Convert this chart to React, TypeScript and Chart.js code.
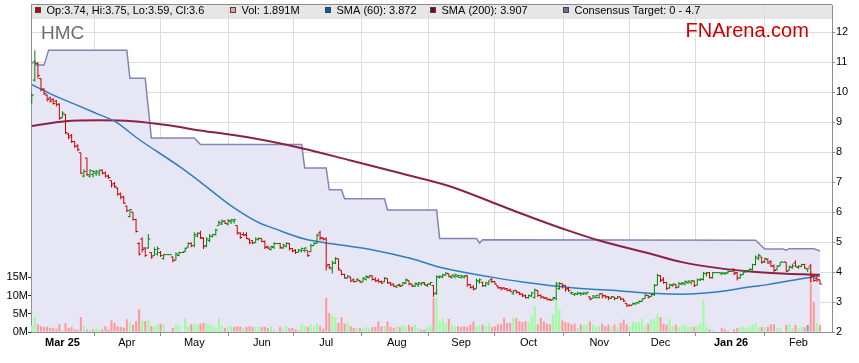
import React, { useEffect, useRef } from 'react';
import { Chart, registerables } from 'chart.js';

Chart.register(...registerables);

// ---- Data (index = weekday number, 0 = 17 Feb 2025) ----
const monthTickIdx = [10, 31, 53, 75, 96, 119, 140, 162, 185, 205, 228, 250];
const monthTickLabels = ['Mar 25', 'Apr', 'May', 'Jun', 'Jul', 'Aug', 'Sep', 'Oct', 'Nov', 'Dec', 'Jan 26', 'Feb'];
const yearLabels = ['Mar 25', 'Jan 26'];
const priceTicks = [2, 3, 4, 5, 6, 7, 8, 9, 10, 11, 12];
const volTicks = [0, 5, 10, 15];

const opens = [
  9.68, 10.4, 10.95, 10.45, 10.1, 9.9, 9.8, 9.75, 9.7, 9.6,
  9.15, 9.25, 8.6, 8.55, 8.35, 8.2, 7.98, 7.2, 7.8, 7.2,
  7.25, 7.3, 7.3, 7.4, 7.3, 7.2, 7.05, 6.95, 6.8, 6.6,
  6.5, 6.2, 5.85, 6.0, 5.75, 4.95, 5.1, 4.8, 4.8, 4.65,
  4.55, 4.6, 4.65, 4.45, 4.58, 4.58, 4.5, 4.4, 4.55, 4.65,
  4.68, 4.83, 4.95, 4.88, 5.2, 5.3, 5.12, 4.88, 5.05, 5.18,
  5.25, 5.55, 5.6, 5.7, 5.6, 5.68, 5.7, 5.55, 5.3, 5.25,
  5.25, 5.1, 5.05, 4.98, 5.08, 5.12, 5.02, 4.85, 4.75, 4.82,
  4.95, 4.95, 4.8, 4.85, 4.95, 4.78, 4.72, 4.66, 4.7, 4.72,
  4.72, 4.68, 4.88, 4.95, 5.3, 5.12, 5.1, 4.25, 4.1, 4.3,
  4.44, 4.05, 3.92, 3.8, 3.83, 3.74, 3.68, 3.72, 3.67, 3.76,
  3.82, 3.87, 3.76, 3.72, 3.68, 3.68, 3.78, 3.64, 3.6, 3.5,
  3.58, 3.55, 3.62, 3.72, 3.6, 3.53, 3.58, 3.6, 3.65, 3.55,
  3.6, 3.55, 3.3, 3.82, 3.83, 3.9, 3.94, 3.82, 3.85, 3.86,
  3.82, 3.83, 3.88, 3.58, 3.5, 3.45, 3.68, 3.66, 3.55, 3.6,
  3.75, 3.68, 3.54, 3.48, 3.47, 3.45, 3.4, 3.3, 3.39, 3.32,
  3.27, 3.22, 3.14, 3.2, 3.15, 3.38, 3.22, 3.17, 3.14, 3.09,
  3.08, 3.12, 3.45, 3.61, 3.56, 3.45, 3.3, 3.25, 3.26, 3.28,
  3.26, 3.27, 3.17, 3.12, 3.15, 3.15, 3.28, 3.22, 3.18, 3.12,
  3.17, 3.12, 3.17, 3.1, 2.95, 2.9, 2.9, 2.93, 2.97, 3.02,
  3.12, 3.22, 3.18, 3.25, 3.56, 3.88, 3.76, 3.65, 3.47, 3.55,
  3.58, 3.5, 3.6, 3.6, 3.64, 3.66, 3.7, 3.56, 3.74, 3.75,
  3.94, 3.98, 3.8, 3.98, 3.98, 3.94, 3.95, 3.97, 4.02, 4.1,
  3.98, 3.8, 3.92, 4.0, 4.03, 4.08, 4.25, 4.45, 4.5, 4.35,
  4.42, 4.35, 4.2, 4.08, 4.2, 4.33, 4.33, 4.06, 4.15, 4.3,
  4.15, 4.18, 4.25, 4.1, 4.2, 3.9, 3.78, 3.74,
];
const highs = [
  9.95, 11.4, 11.0, 10.46, 10.13, 9.92, 9.85, 9.8, 9.74, 9.63,
  9.36, 9.26, 8.64, 8.6, 8.36, 8.26, 7.98, 7.43, 7.81, 7.43,
  7.4, 7.4, 7.42, 7.42, 7.35, 7.25, 7.05, 7.0, 6.82, 6.65,
  6.54, 6.21, 6.1, 6.0, 5.78, 4.99, 5.16, 4.83, 5.27, 4.66,
  4.83, 4.85, 4.7, 4.6, 4.58, 4.58, 4.52, 4.66, 4.68, 4.65,
  4.82, 4.99, 4.99, 5.33, 5.33, 5.38, 5.16, 5.16, 5.27, 5.27,
  5.44, 5.72, 5.75, 5.72, 5.77, 5.77, 5.78, 5.55, 5.33, 5.33,
  5.33, 5.12, 5.05, 5.16, 5.16, 5.12, 5.05, 4.88, 4.88, 4.99,
  4.95, 4.97, 4.94, 4.99, 4.97, 4.8, 4.77, 4.77, 4.82, 4.82,
  4.72, 4.94, 4.99, 5.28, 5.38, 5.16, 5.16, 4.27, 4.38, 4.5,
  4.44, 4.05, 3.94, 3.89, 3.84, 3.78, 3.78, 3.73, 3.83, 3.89,
  3.89, 3.89, 3.83, 3.78, 3.72, 3.83, 3.78, 3.67, 3.61, 3.56,
  3.61, 3.67, 3.78, 3.72, 3.61, 3.65, 3.67, 3.65, 3.67, 3.61,
  3.67, 3.56, 3.89, 3.89, 3.94, 4.0, 3.95, 3.91, 3.94, 3.91,
  3.91, 3.89, 3.89, 3.61, 3.56, 3.78, 3.78, 3.67, 3.67, 3.72,
  3.8, 3.7, 3.55, 3.5, 3.5, 3.47, 3.45, 3.39, 3.39, 3.34,
  3.28, 3.25, 3.25, 3.34, 3.45, 3.39, 3.25, 3.18, 3.15, 3.12,
  3.17, 3.67, 3.67, 3.62, 3.56, 3.5, 3.34, 3.3, 3.34, 3.33,
  3.34, 3.34, 3.18, 3.23, 3.23, 3.28, 3.28, 3.23, 3.2, 3.2,
  3.17, 3.2, 3.17, 3.12, 2.95, 2.92, 2.98, 3.0, 3.06, 3.12,
  3.28, 3.23, 3.3, 3.6, 3.94, 3.89, 3.83, 3.67, 3.61, 3.61,
  3.61, 3.67, 3.67, 3.72, 3.72, 3.72, 3.72, 3.78, 3.8, 4.0,
  4.0, 4.0, 4.0, 3.98, 3.98, 4.0, 4.0, 4.04, 4.02, 4.11,
  4.0, 3.94, 4.02, 4.06, 4.11, 4.28, 4.55, 4.62, 4.5, 4.48,
  4.45, 4.39, 4.25, 4.22, 4.33, 4.33, 4.33, 4.22, 4.28, 4.39,
  4.22, 4.28, 4.28, 4.12, 4.28, 3.94, 3.89, 3.75,
];
const lows = [
  9.63, 10.35, 10.45, 10.02, 9.9, 9.69, 9.65, 9.58, 9.52, 9.08,
  9.14, 8.6, 8.43, 8.3, 8.14, 8.03, 7.26, 7.15, 7.2, 7.15,
  7.15, 7.2, 7.2, 7.25, 7.15, 7.1, 6.82, 6.8, 6.54, 6.43,
  6.27, 5.99, 5.82, 5.72, 5.32, 4.55, 4.66, 4.5, 4.78, 4.44,
  4.55, 4.55, 4.5, 4.42, 4.58, 4.58, 4.33, 4.39, 4.53, 4.65,
  4.66, 4.82, 4.83, 4.83, 5.16, 5.1, 4.77, 4.83, 4.99, 5.16,
  5.22, 5.55, 5.57, 5.6, 5.55, 5.6, 5.62, 5.24, 5.1, 5.2,
  5.1, 4.93, 4.93, 4.97, 5.05, 4.99, 4.77, 4.77, 4.72, 4.77,
  4.95, 4.77, 4.77, 4.83, 4.72, 4.66, 4.6, 4.66, 4.66, 4.66,
  4.5, 4.66, 4.88, 4.94, 5.05, 5.05, 4.05, 4.1, 3.95, 4.27,
  4.05, 3.89, 3.78, 3.78, 3.67, 3.65, 3.67, 3.65, 3.67, 3.72,
  3.78, 3.72, 3.67, 3.65, 3.61, 3.66, 3.61, 3.54, 3.5, 3.47,
  3.5, 3.55, 3.61, 3.56, 3.5, 3.5, 3.5, 3.54, 3.56, 3.5,
  3.56, 3.17, 3.23, 3.78, 3.8, 3.89, 3.83, 3.78, 3.78, 3.8,
  3.78, 3.78, 3.5, 3.45, 3.39, 3.45, 3.61, 3.5, 3.5, 3.56,
  3.63, 3.58, 3.45, 3.39, 3.42, 3.36, 3.34, 3.23, 3.28, 3.23,
  3.17, 3.12, 3.12, 3.17, 3.12, 3.17, 3.12, 3.1, 3.05, 3.03,
  3.06, 3.06, 3.4, 3.45, 3.34, 3.34, 3.25, 3.2, 3.23, 3.2,
  3.23, 3.24, 3.06, 3.12, 3.12, 3.12, 3.12, 3.12, 3.06, 3.12,
  3.06, 3.1, 3.06, 3.0, 2.84, 2.86, 2.9, 2.92, 2.95, 3.0,
  3.12, 3.12, 3.17, 3.2, 3.56, 3.67, 3.61, 3.39, 3.45, 3.5,
  3.45, 3.48, 3.56, 3.56, 3.6, 3.58, 3.5, 3.56, 3.7, 3.72,
  3.85, 3.78, 3.78, 3.98, 3.98, 3.89, 3.9, 3.94, 4.02, 3.89,
  3.72, 3.78, 3.9, 3.99, 4.0, 4.05, 4.22, 4.39, 4.28, 4.3,
  4.28, 4.17, 4.0, 4.05, 4.2, 4.33, 4.0, 4.05, 4.11, 4.17,
  4.11, 4.17, 4.11, 4.0, 3.67, 3.67, 3.67, 3.59,
];
const closes = [
  9.9, 10.95, 10.55, 10.1, 9.95, 9.75, 9.7, 9.62, 9.58, 9.12,
  9.3, 8.65, 8.5, 8.35, 8.2, 8.08, 7.3, 7.35, 7.25, 7.38,
  7.35, 7.36, 7.38, 7.3, 7.2, 7.15, 6.9, 6.85, 6.6, 6.5,
  6.3, 6.05, 6.08, 5.75, 5.35, 4.6, 4.75, 4.55, 5.1, 4.5,
  4.75, 4.78, 4.55, 4.58, 4.58, 4.58, 4.38, 4.6, 4.65, 4.65,
  4.78, 4.95, 4.88, 5.25, 5.28, 5.15, 4.85, 5.1, 5.2, 5.25,
  5.4, 5.65, 5.68, 5.62, 5.72, 5.75, 5.74, 5.3, 5.15, 5.22,
  5.12, 4.98, 4.97, 5.1, 5.12, 5.02, 4.82, 4.8, 4.85, 4.95,
  4.95, 4.82, 4.9, 4.96, 4.78, 4.7, 4.65, 4.74, 4.78, 4.8,
  4.55, 4.88, 4.96, 5.22, 5.15, 5.1, 4.2, 4.15, 4.3, 4.45,
  4.1, 3.92, 3.8, 3.87, 3.7, 3.68, 3.76, 3.66, 3.8, 3.85,
  3.87, 3.75, 3.7, 3.67, 3.63, 3.8, 3.64, 3.57, 3.53, 3.55,
  3.52, 3.64, 3.74, 3.6, 3.53, 3.62, 3.64, 3.63, 3.58, 3.6,
  3.65, 3.28, 3.85, 3.86, 3.9, 3.96, 3.86, 3.9, 3.91, 3.88,
  3.87, 3.86, 3.58, 3.48, 3.42, 3.72, 3.74, 3.54, 3.64, 3.7,
  3.68, 3.6, 3.47, 3.44, 3.43, 3.38, 3.36, 3.37, 3.33, 3.26,
  3.2, 3.15, 3.22, 3.3, 3.4, 3.22, 3.16, 3.12, 3.08, 3.06,
  3.15, 3.6, 3.62, 3.55, 3.42, 3.38, 3.31, 3.28, 3.3, 3.29,
  3.3, 3.32, 3.1, 3.2, 3.22, 3.27, 3.2, 3.16, 3.14, 3.18,
  3.12, 3.17, 3.1, 3.03, 2.87, 2.88, 2.95, 2.98, 3.02, 3.1,
  3.22, 3.16, 3.24, 3.55, 3.88, 3.72, 3.65, 3.45, 3.58, 3.6,
  3.48, 3.62, 3.64, 3.68, 3.7, 3.71, 3.55, 3.74, 3.77, 3.96,
  3.97, 3.82, 3.98, 3.98, 3.98, 3.97, 3.96, 4.02, 4.02, 3.95,
  3.8, 3.9, 4.0, 4.05, 4.1, 4.25, 4.5, 4.55, 4.32, 4.45,
  4.3, 4.2, 4.05, 4.2, 4.33, 4.33, 4.02, 4.18, 4.2, 4.19,
  4.2, 4.25, 4.13, 4.13, 3.85, 3.72, 3.74, 3.6,
];
// volume in millions of shares
const volumes = [
  1.8, 4.1, 2.1, 1.6, 1.4, 1.4, 1.2, 1.1, 0.9, 2.1,
  0.6, 2.5, 1.1, 1.4, 0.7, 0.6, 4.1, 1.6, 0.7, 0.7,
  0.7, 1.3, 0.7, 0.7, 1.6, 0.7, 3.2, 2.5, 1.6, 1.4,
  1.2, 3.5, 2.7, 2.0, 3.0, 6.2, 3.2, 3.0, 3.2, 1.6,
  1.6, 2.1, 2.3, 2.1, 0, 0, 1.1, 2.1, 1.6, 0,
  3.8, 1.6, 2.1, 2.1, 2.0, 2.3, 2.5, 2.3, 2.1, 1.6,
  1.1, 3.8, 1.8, 1.1, 1.4, 1.6, 1.4, 1.6, 1.4, 1.1,
  1.4, 1.6, 1.4, 1.4, 1.4, 1.4, 1.4, 1.1, 1.6, 0.7,
  0, 1.4, 0.9, 1.6, 1.1, 1.1, 0.7, 0.7, 2.1, 1.6,
  1.4, 2.1, 1.4, 2.3, 1.6, 0.9, 9.3, 5.2, 4.5, 4.1,
  2.5, 4.1, 2.3, 2.7, 1.6, 1.1, 1.1, 1.1, 1.1, 1.4,
  1.1, 1.4, 1.4, 2.9, 1.6, 1.6, 2.9, 1.4, 1.1, 1.4,
  1.4, 2.0, 1.6, 2.0, 1.4, 2.0, 1.1, 0.7, 0.7, 1.4,
  1.8, 9.3, 9.5, 2.9, 3.8, 2.5, 3.6, 2.1, 1.4, 1.6,
  1.4, 1.6, 1.4, 2.0, 2.9, 1.6, 2.0, 2.0, 1.6, 2.5,
  1.4, 1.6, 2.1, 2.1, 3.8, 2.5, 2.5, 3.8, 3.8, 3.0,
  2.7, 3.0, 2.7, 4.5, 7.0, 2.1, 3.8, 2.9, 2.3, 2.1,
  4.8, 8.6, 6.1, 3.2, 2.7, 2.5, 2.1, 2.3, 1.1, 2.0,
  2.0, 2.1, 2.9, 2.0, 1.4, 1.6, 2.3, 1.6, 2.0, 1.4,
  2.0, 1.4, 2.5, 3.4, 2.1, 1.4, 2.9, 2.5, 2.7, 3.4,
  1.6, 2.3, 3.4, 3.6, 5.0, 4.1, 2.3, 2.0, 3.6, 1.6,
  2.0, 1.4, 1.6, 2.0, 1.4, 1.6, 1.4, 1.6, 2.3, 8.8,
  1.4, 0.7, 0.6, 0, 0, 1.2, 0.7, 0.5, 0, 0.7,
  1.1, 1.4, 1.6, 1.1, 1.4, 2.0, 2.5, 1.4, 1.4, 1.4,
  1.4, 2.1, 2.1, 1.1, 1.1, 0, 1.9, 2.2, 1.0, 1.9,
  1.0, 1.45, 1.3, 1.9, 16.4, 8.3, 2.4, 1.891,
];

const sma60Idx = [0, 7, 14, 22, 27, 35, 48, 55, 65, 75, 78, 89, 98, 110, 124, 133, 150, 160, 177, 193, 204, 212, 224, 234, 240, 250, 257];
const sma60Val = [10.25, 9.9, 9.6, 9.25, 9.03, 8.42, 7.53, 7.0, 6.21, 5.6, 5.49, 5.1, 4.94, 4.76, 4.44, 4.16, 3.83, 3.67, 3.47, 3.36, 3.28, 3.26, 3.34, 3.5, 3.58, 3.76, 3.872];

const sma200Idx = [0, 11, 22, 33, 44, 55, 70, 88, 104, 120, 136, 153, 163, 175, 185, 202, 212, 224, 234, 246, 257];
const sma200Val = [8.87, 9.03, 9.06, 9.03, 8.9, 8.72, 8.5, 8.13, 7.72, 7.3, 6.87, 6.21, 5.82, 5.38, 5.05, 4.6, 4.33, 4.13, 4.02, 3.94, 3.907];

const targetIdx = [0, 1, 1.5, 4, 5.5, 31, 32, 37, 39, 53, 55, 88, 89, 96, 97, 101, 102, 115, 116, 132, 133, 145, 146, 147, 236, 239, 245, 246, 247, 255, 257];
const targetVal = [10.96, 11.04, 10.9, 10.9, 11.4, 11.4, 10.46, 10.46, 8.47, 8.47, 8.25, 8.25, 7.47, 7.47, 6.74, 6.74, 6.44, 6.44, 6.07, 6.07, 5.12, 5.12, 4.97, 5.08, 5.06, 4.77, 4.77, 4.73, 4.78, 4.78, 4.7];
const targetLow = 0;

// ---- Styling ----
const FONT = "'Liberation Sans', Arial, Helvetica, sans-serif";
const UP = '#008800';
const DOWN = '#CC0000';
const VOL_UP = '#99FF99';
const VOL_DOWN = '#FF9999';
const VOL_FLAT = '#999999';
const SMA60_C = '#2F7EC0';
const SMA200_C = '#8C2048';
const TARGET_LINE = '#8484B4';
const TARGET_FILL = '#E6E6F5';
const GRID = '#DCDCDC';
const AXIS = '#8C8C8C';

const n = closes.length;
const barColors = closes.map((c, i) => (c >= opens[i] ? UP : DOWN));
const volColors = closes.map((c, i) => {
  const prev = i > 0 ? closes[i - 1] : opens[0];
  if (c > prev) return VOL_UP;
  if (c < prev) return VOL_DOWN;
  return VOL_FLAT;
});

const X_MIN = -0.25;
const X_MAX = 260.92;

const headerPlugin = {
  id: 'fnHeader',
  beforeDraw(chart: any) {
    const { ctx, chartArea: a } = chart;
    ctx.save();
    ctx.fillStyle = '#E6E6E6';
    ctx.fillRect(a.left, a.top, a.right - a.left, 14);
    ctx.restore();
  },
  afterDraw(chart: any) {
    const { ctx, chartArea: a } = chart;
    ctx.save();
    // top border
    ctx.strokeStyle = AXIS;
    ctx.lineWidth = 1;
    ctx.beginPath();
    ctx.moveTo(a.left, a.top - 0.5);
    ctx.lineTo(a.right, a.top - 0.5);
    ctx.stroke();

    const last = n - 1;
    const items = [
      { c: DOWN, t: `Op:${opens[last]}, Hi:${highs[last]}, Lo:${lows[last]}, Cl:${closes[last]}`, x: 35 },
      { c: VOL_DOWN, t: `Vol: ${volumes[last]}M`, x: 230 },
      { c: '#0060A8', t: `SMA (60): ${sma60Val[sma60Val.length - 1]}`, x: 325 },
      { c: '#800028', t: `SMA (200): ${sma200Val[sma200Val.length - 1]}`, x: 430 },
      { c: '#6E6EA0', t: `Consensus Target: ${targetLow} - ${targetVal[targetVal.length - 1]}`, x: 563 },
    ];
    ctx.font = `11px ${FONT}`;
    ctx.textBaseline = 'alphabetic';
    items.forEach((it) => {
      ctx.fillStyle = it.c;
      ctx.fillRect(it.x, 7, 6, 6);
      ctx.strokeStyle = '#444';
      ctx.strokeRect(it.x + 0.5, 7.5, 5, 5);
      ctx.fillStyle = '#000';
      ctx.fillText(it.t, it.x + 11.5, 14);
    });

    ctx.font = `19px ${FONT}`;
    ctx.fillStyle = '#6E6E6E';
    ctx.fillText('HMC', 41, 39);

    ctx.font = `20px ${FONT}`;
    ctx.fillStyle = '#CC0000';
    ctx.fillText('FNArena.com', 685.5, 36.5);
    ctx.restore();
  },
};

function zeroPad(scale: any) {
  scale.paddingTop = 0;
  scale.paddingBottom = 0;
  scale.paddingLeft = 0;
  scale.paddingRight = 0;
}

export default function App() {
  const ref = useRef<HTMLCanvasElement>(null);

  useEffect(() => {
    if (!ref.current) return;
    const idx = closes.map((_, i) => i);
    const chart = new Chart(ref.current, {
      type: 'bar',
      data: {
        datasets: [
          {
            type: 'line',
            label: 'Open',
            data: idx.map((i) => ({ x: i - 0.33, y: opens[i] })),
            showLine: false,
            pointStyle: 'line',
            pointRadius: 1,
            pointBorderWidth: 1,
            pointBorderColor: barColors,
            pointBackgroundColor: barColors,
            yAxisID: 'y',
            order: 1,
          } as any,
          {
            type: 'line',
            label: 'Close',
            data: idx.map((i) => ({ x: i + 0.33, y: closes[i] })),
            showLine: false,
            pointStyle: 'line',
            pointRadius: 1,
            pointBorderWidth: 1,
            pointBorderColor: barColors,
            pointBackgroundColor: barColors,
            yAxisID: 'y',
            order: 1,
          } as any,
          {
            type: 'bar',
            label: 'HL',
            data: idx.map((i) => ({ x: i, y: [lows[i], highs[i]] })),
            backgroundColor: barColors,
            barThickness: 1,
            grouped: false,
            inflateAmount: 0,
            borderWidth: 0,
            yAxisID: 'y',
            order: 2,
          } as any,
          {
            type: 'line',
            label: 'SMA (60)',
            data: sma60Idx.map((x, k) => ({ x, y: sma60Val[k] })),
            borderColor: SMA60_C,
            borderWidth: 1.5,
            pointRadius: 0,
            cubicInterpolationMode: 'monotone',
            fill: false,
            yAxisID: 'y',
            order: 3,
          } as any,
          {
            type: 'line',
            label: 'SMA (200)',
            data: sma200Idx.map((x, k) => ({ x, y: sma200Val[k] })),
            borderColor: SMA200_C,
            borderWidth: 2,
            pointRadius: 0,
            cubicInterpolationMode: 'monotone',
            fill: false,
            yAxisID: 'y',
            order: 4,
          } as any,
          {
            type: 'bar',
            label: 'Vol',
            data: idx.map((i) => ({ x: i, y: volumes[i] })),
            backgroundColor: volColors,
            barThickness: 2,
            grouped: false,
            inflateAmount: 0,
            borderWidth: 0,
            yAxisID: 'yv',
            order: 8,
          } as any,
          {
            type: 'line',
            label: 'Consensus Target',
            data: targetIdx.map((x, k) => ({ x, y: targetVal[k] })),
            borderColor: TARGET_LINE,
            borderWidth: 1.5,
            backgroundColor: TARGET_FILL,
            fill: 'start',
            pointRadius: 0,
            tension: 0,
            yAxisID: 'y',
            order: 10,
          } as any,
        ],
      },
      options: {
        responsive: false,
        animation: false,
        devicePixelRatio: 1,
        events: [],
        layout: { padding: { top: 3, left: 0, right: 0, bottom: 0 } },
        plugins: {
          legend: { display: false },
          tooltip: { enabled: false },
        },
        scales: {
          x: {
            type: 'linear',
            position: 'bottom',
            min: X_MIN,
            max: X_MAX,
            offset: false,
            afterBuildTicks: (scale: any) => {
              scale.ticks = monthTickIdx.map((v) => ({ value: v }));
            },
            afterFit: (scale: any) => {
              scale.height = 31;
              zeroPad(scale);
            },
            grid: {
              color: GRID,
              tickColor: AXIS,
              tickLength: 4,
              drawTicks: true,
            },
            border: { display: true, color: AXIS },
            ticks: {
              autoSkip: false,
              maxRotation: 0,
              padding: 0,
              color: '#000',
              font: (c: any) => ({
                family: FONT,
                size: 11,
                weight: yearLabels.includes(monthTickLabels[monthTickIdx.indexOf(c.tick?.value)]) ? 'bold' : 'normal',
              }),
              callback: (v: any) => {
                const k = monthTickIdx.indexOf(Number(v));
                return k >= 0 ? monthTickLabels[k] : '';
              },
            },
          },
          y: {
            type: 'linear',
            position: 'right',
            min: 2,
            max: 12.905,
            afterBuildTicks: (scale: any) => {
              scale.ticks = priceTicks.map((v) => ({ value: v }));
            },
            afterFit: (scale: any) => {
              scale.width = 27;
              zeroPad(scale);
            },
            grid: { color: GRID, tickColor: AXIS, tickLength: 3 },
            border: { display: true, color: AXIS },
            ticks: {
              padding: 1,
              color: '#000',
              font: { family: FONT, size: 11 },
              callback: (v: any) => String(v),
            },
          },
          yv: {
            type: 'linear',
            position: 'left',
            min: 0,
            max: 89.6,
            afterBuildTicks: (scale: any) => {
              scale.ticks = volTicks.map((v) => ({ value: v }));
            },
            afterFit: (scale: any) => {
              scale.width = 31;
              zeroPad(scale);
            },
            grid: { drawOnChartArea: false, tickColor: '#333', tickLength: 3 },
            border: { display: true, color: AXIS },
            ticks: {
              padding: 0,
              color: '#000',
              font: { family: FONT, size: 11 },
              callback: (v: any) => `${v}M`,
            },
          },
        },
      } as any,
      plugins: [headerPlugin],
    });
    return () => chart.destroy();
  }, []);

  return (
    <div style={{ position: 'absolute', left: 0, top: 0, width: 859, height: 363, background: '#fff' }}>
      <canvas ref={ref} width={859} height={363} style={{ display: 'block', width: 859, height: 363 }} />
    </div>
  );
}
